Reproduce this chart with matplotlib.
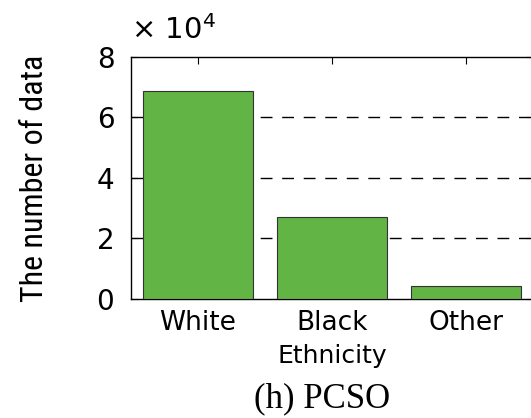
import numpy as np
import matplotlib
matplotlib.use("Agg")
import matplotlib.pyplot as plt
from matplotlib import font_manager

# values (counts per ethnicity)
categories = ["White", "Black", "Other"]
counts = [68800, 27100, 4300]
yticks = [0, 2, 4, 6, 8]

installed = {f.name for f in font_manager.fontManager.ttflist}
narrow = next((n for n in ["Liberation Sans Narrow", "Roboto Condensed",
                           "Open Sans Condensed", "Liberation Sans"] if n in installed),
              "DejaVu Sans")
serif = "Liberation Serif" if "Liberation Serif" in installed else "DejaVu Serif"

fig = plt.figure(figsize=(5.31, 4.18), dpi=100)
# axes runs slightly past the right edge, as in the cropped original
ax = fig.add_axes([0.2467, 0.2847, 0.757, 0.579])

x = np.arange(1, len(categories) + 1)
ax.bar(x, np.array(counts) / 1e4, width=0.82, color="#62b445",
       edgecolor="#333333", linewidth=0.8, zorder=3)

ax.set_xlim(0.5, 3.5)
ax.set_ylim(0, 8)
ax.set_yticks(yticks)
ax.set_yticklabels([str(t) for t in yticks], fontsize=20, family="DejaVu Sans")
ax.set_xticks(x)
ax.set_xticklabels(categories, fontsize=19, family="DejaVu Sans")

# dashed grid at 2, 4, 6 behind the bars
for t in yticks[1:-1]:
    ax.axhline(t, color="black", linewidth=1.0, linestyle=(0, (8.5, 7)), zorder=1)

ax.tick_params(direction="in", length=5, width=0.8, top=True, right=True,
               colors="black")
ax.tick_params(axis="y", pad=12)
ax.tick_params(axis="x", pad=8)
for s in ax.spines.values():
    s.set_linewidth(1.0)
    s.set_color("black")

ax.set_xlabel("Ethnicity", fontsize=18, family="DejaVu Sans", labelpad=6)
ax.set_ylabel("The number of data", fontsize=23, family=narrow)
ax.yaxis.set_label_coords(-0.205, 0.5)

# exponent marker at the top-left
ax.text(0.0, 1.05, r"$\times$ 10$^{4}$", transform=ax.transAxes,
        fontsize=21, family="DejaVu Sans", ha="left", va="bottom")

fig.text(0.607, 0.045, "(h) PCSO", fontsize=25, family=serif,
         ha="center", va="center")

fig.savefig("out.png", dpi=100)
